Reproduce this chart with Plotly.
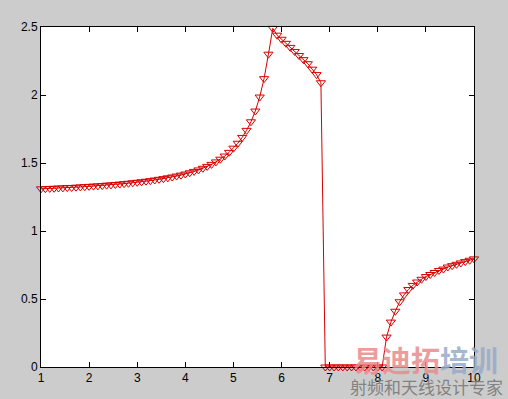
import numpy as np
import plotly.graph_objects as go

x_start = 1
x_end = 10
n_points = 100

y_rise = [1.310, 1.311, 1.313, 1.314, 1.316, 1.317, 1.319, 1.320, 1.322, 1.324,
          1.326, 1.328, 1.330, 1.332, 1.334, 1.337, 1.339, 1.342, 1.345, 1.348,
          1.351, 1.355, 1.358, 1.362, 1.366, 1.370, 1.375, 1.380, 1.385, 1.391,
          1.397, 1.404, 1.411, 1.419, 1.428, 1.438, 1.449, 1.461, 1.475, 1.490,
          1.508, 1.528, 1.551, 1.578, 1.609, 1.645, 1.688, 1.740, 1.803, 1.882,
          1.985, 2.12, 2.30, 2.49]
y_fall = [2.44, 2.41, 2.38, 2.35, 2.32, 2.29, 2.26, 2.23, 2.19, 2.15, 2.09]
y_zero = [0, 0, 0, 0, 0, 0, 0, 0, 0, 0, 0, 0, 0, 0]
y_recover = [0.22, 0.33, 0.41, 0.48, 0.53, 0.57, 0.60, 0.625, 0.645, 0.665,
             0.68, 0.695, 0.71, 0.72, 0.735, 0.745, 0.755, 0.765, 0.775, 0.785,
             0.795]

x_ticks = [1, 2, 3, 4, 5, 6, 7, 8, 9, 10]
y_ticks = [0, 0.5, 1, 1.5, 2, 2.5]
y_tick_labels = ["0", "0.5", "1", "1.5", "2", "2.5"]

watermark_main_a = "易迪拓"
watermark_main_b = "培训"
watermark_sub = "射频和天线设计专家"

x = np.linspace(x_start, x_end, n_points)
y = y_rise + y_fall + y_zero + y_recover

red = "rgb(215,0,0)"
fig = go.Figure()
fig.add_trace(go.Scatter(
    x=x, y=y, mode="lines+markers",
    line=dict(color=red, width=1),
    marker=dict(symbol="triangle-down-open", size=8, color=red, line=dict(width=1, color=red)),
    cliponaxis=False, showlegend=False,
))

axis_common = dict(
    showgrid=False, zeroline=False, showline=True, linecolor="black", linewidth=1,
    mirror="ticks", ticks="inside", ticklen=5, tickcolor="black",
    tickfont=dict(family="Liberation Sans, Arial, sans-serif", size=12, color="black"),
)
fig.update_xaxes(range=[1, 10], tickvals=x_ticks, ticktext=[str(v) for v in x_ticks], **axis_common)
fig.update_yaxes(range=[0, 2.5], tickvals=y_ticks, ticktext=y_tick_labels, **axis_common)

fig.update_layout(
    width=508, height=399,
    margin=dict(l=41, r=34, t=27, b=32),
    paper_bgcolor="#cccccc", plot_bgcolor="white",
)

fig.add_annotation(
    xref="paper", yref="paper", x=1.060, y=0.0235, xanchor="right", yanchor="middle",
    text=("<b><span style='color:rgba(232,140,140,0.85)'>" + watermark_main_a + "</span>"
          "<span style='color:rgba(150,170,200,0.85)'>" + watermark_main_b + "</span></b>"),
    font=dict(family="Noto Sans CJK SC", size=29), showarrow=False,
)
fig.add_annotation(
    xref="paper", yref="paper", x=1.0716, y=-0.058, xanchor="right", yanchor="middle",
    text=watermark_sub,
    font=dict(family="Noto Sans CJK SC", size=17, color="rgba(120,120,120,0.9)"), showarrow=False,
)

fig.write_html("out.html")
